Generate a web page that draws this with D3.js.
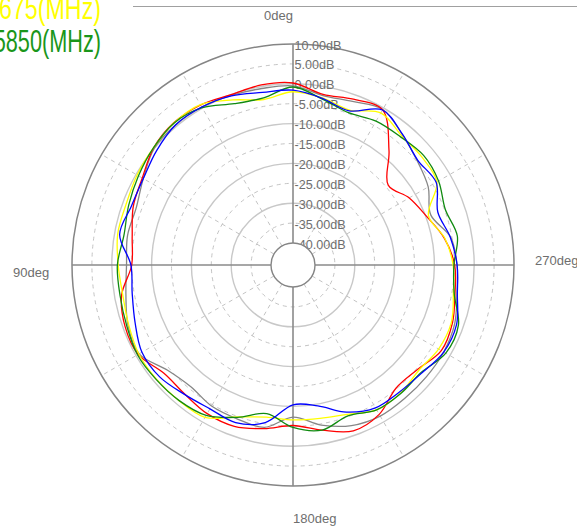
<!DOCTYPE html>
<html><head><meta charset="utf-8">
<script src="https://cdn.jsdelivr.net/npm/d3@7"></script>
<style>html,body{margin:0;padding:0;background:#fff;overflow:hidden}</style>
</head><body><svg id="c" width="577" height="526"></svg>
<script>
// ---- data ----
const angles = d3.range(0, 360, 10); // degrees, counter-clockwise from top
const ringLevels = [10, 5, 0, -5, -10, -15, -20, -25, -30, -35, -40];
const ringLabels = ["10.00dB","5.00dB","0.00dB","-5.00dB","-10.00dB","-15.00dB","-20.00dB","-25.00dB","-30.00dB","-35.00dB","-40.00dB"];
const spokeAngles = [30, 60, 120, 150, 210, 240, 300, 330];
const axisAngles = [0, 90, 180, 270];
const angleLabels = ["0deg", "90deg", "180deg", "270deg"];
const legendLabels = ["5675(MHz)", "5850(MHz)"];

const greyDB   = [-0.5,-0.5,-0.2,0.3,0.4,0.0,-2.1,-3.6,-3.3,-3.7,-2.9,-1.4,-0.9,-4.4,-5.6,-4.6,-4.4,-4.1,-7.3,-4.7,-2.6,-1.7,-1.8,-1.8,-1.8,-2.3,-3.7,-4.3,-5.3,-8.7,-6.3,-4.8,-2.8,-0.4,-1.8,-2.3];
const redDB    = [0.2,0.4,0.0,0.9,1.1,0.2,-1.8,-2.8,-4.5,-5.0,-1.8,-0.6,-0.6,-3.2,-3.2,-2.4,-2.4,-3.8,-5.2,-3.4,-1.2,-2.2,-5.2,-4.7,-2.5,-2.9,-4.2,-4.9,-6.9,-9.8,-11.8,-14.3,-8.0,-0.5,-1.2,-2.0];
const yellowDB = [-2.0,-3.3,-1.4,1.0,1.05,0.25,-0.3,-0.9,-0.8,-1.6,-2.1,-1.6,-0.8,-0.8,-1.0,-1.3,-4.9,-6.7,-6.6,-6.4,-5.6,-3.5,-3.5,-4.3,-3.3,-3.2,-4.6,-5.3,-6.8,-9.3,-3.8,-3.3,-3.1,-1.4,-4.1,-2.9];
const greenDB  = [-0.8,-2.9,-2.4,0.1,1.0,0.25,-0.7,-1.6,-2.4,-1.4,-1.4,-1.05,-0.4,-0.7,-1.05,-1.9,-4.8,-7.6,-4.7,-3.4,-5.2,-3.5,-3.4,-3.5,-1.2,-1.3,-4.4,-5.1,-3.6,-4.8,-3.3,-2.7,-3.5,-3.8,-4.8,-3.2];
const blueDB   = [-1.6,-1.5,-0.3,0.3,0.4,-0.8,-2.1,-2.3,-1.3,-4.8,-4.5,-3.3,-1.7,-1.8,-3.1,-3.8,-3.4,-5.3,-10.4,-9.6,-6.2,-4.1,-3.9,-3.3,-1.8,-1.8,-3.6,-4.3,-5.4,-6.8,-4.0,-4.6,-2.7,-0.55,-4.3,-3.0];

const seriesNames = ["grey","red","yellow","green","blue"];
const seriesValues = [greyDB, redDB, yellowDB, greenDB, blueDB];
const seriesColors = ["#868686","#ff0000","#ffff00","#108a10","#0000ff"];

// ---- drawing ----
const svg = d3.select("#c");
const cx = 293, cy = 265;
const r = d3.scaleLinear().domain([-40, 10]).range([22, 221]);
const rad = d => d * Math.PI / 180;
const g = svg.append("g").attr("transform", `translate(${cx},${cy})`);

// top rule
svg.append("line").attr("x1", 133).attr("x2", 577).attr("y1", 6.5).attr("y2", 6.5)
  .attr("stroke", "#a0a0a0").attr("stroke-width", 1);

// rings
g.selectAll("circle.ring").data(ringLevels.filter(l => l !== -40 && l !== 10)).join("circle")
  .attr("r", d => r(d)).attr("fill", "none")
  .attr("stroke", d => d % 10 === 0 ? "#c8c8c8" : "#c4c4c4")
  .attr("stroke-width", d => d % 10 === 0 ? 1.4 : 1)
  .attr("stroke-dasharray", d => d % 10 === 0 ? null : "4,4");

// spokes
g.selectAll("line.spoke").data(spokeAngles).join("line")
  .attr("x1", d => -r(-40) * Math.sin(rad(d))).attr("y1", d => -r(-40) * Math.cos(rad(d)))
  .attr("x2", d => -r(10) * Math.sin(rad(d))).attr("y2", d => -r(10) * Math.cos(rad(d)))
  .attr("stroke", "#c4c4c4").attr("stroke-width", 1).attr("stroke-dasharray", "4,4");

// outer circle
g.append("circle").attr("r", r(10)).attr("fill", "none").attr("stroke", "#858585").attr("stroke-width", 1.5);

// main axes
g.selectAll("line.axis").data(axisAngles).join("line")
  .attr("x1", d => -r(-40) * Math.sin(rad(d))).attr("y1", d => -r(-40) * Math.cos(rad(d)))
  .attr("x2", d => -r(10) * Math.sin(rad(d))).attr("y2", d => -r(10) * Math.cos(rad(d)))
  .attr("stroke", "#8a8a8a").attr("stroke-width", 1.6);

// ring labels
g.selectAll("text.rl").data(ringLevels).join("text")
  .attr("x", 1.5).attr("y", d => -r(d) + 5.5)
  .attr("font-family", "Liberation Sans, Arial, sans-serif").attr("font-size", 12.6)
  .attr("fill", "#6e6e6e")
  .text((d, i) => ringLabels[i]);

// series
const line = d3.lineRadial()
  .angle(d => -rad(d[0]))
  .radius(d => r(d[1]))
  .curve(d3.curveCatmullRomClosed.alpha(0.5));
seriesValues.forEach((vals, i) => {
  g.append("path")
    .datum(angles.map((a, j) => [a, vals[j]]))
    .attr("d", line).attr("fill", "none")
    .attr("stroke", seriesColors[i]).attr("stroke-width", 1.3)
    .attr("class", seriesNames[i]);
});

// inner circle
g.append("circle").attr("r", r(-40)).attr("fill", "#fff").attr("stroke", "#858585").attr("stroke-width", 1.4);

// angle labels
const angPos = [
  {x: 293, y: 20, anchor: "end"},
  {x: 13, y: 277, anchor: "start"},
  {x: 293, y: 523, anchor: "start"},
  {x: 535, y: 265, anchor: "start"}
];
svg.selectAll("text.al").data(angleLabels).join("text")
  .attr("x", (d, i) => angPos[i].x).attr("y", (d, i) => angPos[i].y)
  .attr("text-anchor", (d, i) => angPos[i].anchor)
  .attr("font-family", "Liberation Sans, Arial, sans-serif").attr("font-size", 13)
  .attr("fill", "#6e6e6e").text(d => d);

// legend (clipped at top-left, as in the source window)
const legPos = [{y: 18.5, sx: 0.75, color: "#ffff00"}, {y: 52.3, sx: 0.7, color: "#1a961a"}];
legendLabels.forEach((t, i) => {
  svg.append("text")
    .attr("transform", `translate(101,${legPos[i].y}) scale(${legPos[i].sx},1)`)
    .attr("text-anchor", "end")
    .attr("font-family", "Liberation Sans, Arial, sans-serif").attr("font-size", 31)
    .attr("fill", legPos[i].color).text(t);
});
</script>
</body></html>
